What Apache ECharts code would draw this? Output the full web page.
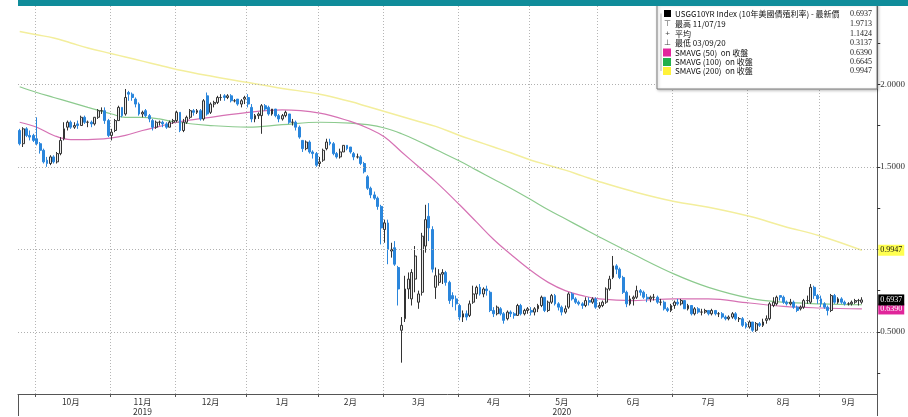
<!DOCTYPE html>
<html><head><meta charset="utf-8">
<script src="https://cdn.jsdelivr.net/npm/echarts@6/dist/echarts.min.js"></script>
<style>html,body{margin:0;padding:0;background:#fff}#c{width:908px;height:417px}</style>
</head><body><div id="c"></div>
<script>
// ---------- categories (trading days) ----------
const monthKeys = ['2019-09','2019-10','2019-11','2019-12','2020-01','2020-02','2020-03','2020-04','2020-05','2020-06','2020-07','2020-08','2020-09'];
const monthLabels = ['', '10月', '11月\n2019', '12月', '1月', '2月', '3月', '4月', '5月\n2020', '6月', '7月', '8月', '9月'];
const tradingDays = [
  [24,25,26,27,30],
  [1,2,3,4,7,8,9,10,11,15,16,17,18,21,22,23,24,25,28,29,30,31],
  [1,4,5,6,7,8,12,13,14,15,18,19,20,21,22,25,26,27,29],
  [2,3,4,5,6,9,10,11,12,13,16,17,18,19,20,23,24,26,27,30,31],
  [2,3,6,7,8,9,10,13,14,15,16,17,21,22,23,24,27,28,29,30,31],
  [3,4,5,6,7,10,11,12,13,14,18,19,20,21,24,25,26,27,28],
  [2,3,4,5,6,9,10,11,12,13,16,17,18,19,20,23,24,25,26,27,30,31],
  [1,2,3,6,7,8,9,13,14,15,16,17,20,21,22,23,24,27,28,29,30],
  [1,4,5,6,7,8,11,12,13,14,15,18,19,20,21,22,26,27,28,29],
  [1,2,3,4,5,8,9,10,11,12,15,16,17,18,19,22,23,24,25,26,29,30],
  [1,2,6,7,8,9,10,13,14,15,16,17,20,21,22,23,24,27,28,29,30,31],
  [3,4,5,6,7,10,11,12,13,14,17,18,19,20,21,24,25,26,27,28,31],
  [1,2,3,4,8,9,10,11,14,15,16,17,18]
];
const futureDays = ['2020-09-21','2020-09-22','2020-09-23','2020-09-24'];

// ---------- USGG10YR candles [open, close, low, high] ----------
const sep19 = [[1.72,1.64,1.63,1.73],[1.64,1.73,1.62,1.74],[1.73,1.69,1.68,1.74],[1.69,1.68,1.66,1.72],[1.69,1.66,1.65,1.70]];
const oct19 = [[1.67,1.64,1.63,1.80],[1.64,1.60,1.58,1.65],[1.60,1.53,1.52,1.61],[1.54,1.52,1.50,1.56],[1.52,1.56,1.51,1.57],[1.56,1.53,1.52,1.57],[1.53,1.58,1.52,1.59],[1.58,1.66,1.57,1.68],[1.67,1.73,1.66,1.77],[1.74,1.77,1.72,1.78],[1.77,1.74,1.73,1.78],[1.74,1.75,1.73,1.77],[1.76,1.75,1.73,1.78],[1.75,1.80,1.75,1.81],[1.80,1.77,1.76,1.81],[1.77,1.77,1.74,1.78],[1.77,1.76,1.74,1.78],[1.76,1.80,1.75,1.80],[1.80,1.84,1.79,1.85],[1.84,1.84,1.82,1.86],[1.84,1.78,1.76,1.86],[1.78,1.69,1.68,1.79]];
const nov19 = [[1.69,1.71,1.66,1.73],[1.72,1.78,1.71,1.79],[1.78,1.86,1.78,1.87],[1.86,1.81,1.80,1.86],[1.82,1.92,1.81,1.9713],[1.95,1.94,1.90,1.96],[1.94,1.92,1.90,1.95],[1.91,1.88,1.86,1.92],[1.88,1.82,1.81,1.89],[1.82,1.83,1.80,1.84],[1.84,1.81,1.80,1.85],[1.81,1.79,1.77,1.82],[1.78,1.74,1.72,1.79],[1.74,1.77,1.73,1.78],[1.77,1.77,1.75,1.78],[1.77,1.76,1.74,1.78],[1.76,1.74,1.73,1.77],[1.74,1.77,1.74,1.78],[1.77,1.78,1.76,1.79]];
const dec19 = [[1.78,1.83,1.77,1.84],[1.83,1.72,1.71,1.83],[1.72,1.77,1.71,1.79],[1.77,1.80,1.76,1.81],[1.80,1.84,1.79,1.85],[1.84,1.83,1.81,1.85],[1.83,1.84,1.82,1.85],[1.84,1.79,1.78,1.85],[1.79,1.90,1.78,1.91],[1.93,1.82,1.81,1.95],[1.83,1.88,1.82,1.89],[1.88,1.89,1.86,1.90],[1.89,1.92,1.88,1.93],[1.92,1.92,1.90,1.94],[1.93,1.92,1.90,1.94],[1.92,1.93,1.91,1.94],[1.93,1.90,1.89,1.94],[1.90,1.90,1.89,1.91],[1.91,1.88,1.87,1.91],[1.88,1.90,1.86,1.91],[1.91,1.92,1.88,1.93]];
const jan20 = [[1.92,1.88,1.86,1.94],[1.86,1.79,1.77,1.88],[1.79,1.81,1.77,1.82],[1.81,1.82,1.79,1.83],[1.81,1.87,1.70,1.88],[1.87,1.85,1.84,1.88],[1.86,1.82,1.81,1.87],[1.82,1.85,1.81,1.85],[1.85,1.81,1.80,1.85],[1.81,1.79,1.77,1.82],[1.79,1.81,1.78,1.82],[1.81,1.83,1.80,1.84],[1.82,1.77,1.76,1.82],[1.77,1.77,1.75,1.79],[1.77,1.74,1.72,1.78],[1.74,1.68,1.67,1.75],[1.66,1.61,1.59,1.66],[1.61,1.65,1.60,1.66],[1.65,1.59,1.58,1.66],[1.59,1.58,1.55,1.60],[1.58,1.51,1.50,1.59]];
const feb20 = [[1.52,1.53,1.50,1.56],[1.54,1.60,1.53,1.61],[1.61,1.65,1.60,1.67],[1.65,1.64,1.63,1.67],[1.64,1.58,1.57,1.65],[1.58,1.56,1.55,1.59],[1.56,1.59,1.55,1.61],[1.59,1.63,1.59,1.63],[1.63,1.61,1.60,1.63],[1.62,1.59,1.58,1.62],[1.58,1.56,1.54,1.59],[1.56,1.56,1.55,1.58],[1.56,1.52,1.51,1.57],[1.52,1.47,1.46,1.53],[1.44,1.37,1.36,1.45],[1.37,1.33,1.31,1.38],[1.33,1.31,1.30,1.35],[1.31,1.26,1.24,1.32],[1.26,1.13,1.03,1.27]];
const mar20 = [[1.12,1.16,1.04,1.18],[1.16,1.00,0.91,1.18],[0.99,1.00,0.95,1.04],[1.01,0.91,0.90,1.05],[0.89,0.76,0.66,0.90],[0.51,0.54,0.3137,0.59],[0.58,0.76,0.56,0.84],[0.76,0.82,0.70,0.86],[0.70,0.86,0.66,0.88],[0.82,0.96,0.74,1.02],[0.68,0.73,0.64,0.75],[0.74,1.08,0.72,1.10],[1.02,1.18,0.98,1.27],[1.20,1.13,1.05,1.28],[1.12,0.88,0.86,1.14],[0.77,0.84,0.70,0.89],[0.80,0.85,0.78,0.88],[0.85,0.86,0.79,0.88],[0.86,0.80,0.78,0.87],[0.80,0.69,0.67,0.81],[0.72,0.70,0.65,0.74],[0.70,0.67,0.63,0.72]];
const apr20 = [[0.66,0.59,0.57,0.67],[0.59,0.61,0.56,0.63],[0.61,0.59,0.57,0.63],[0.60,0.67,0.59,0.69],[0.68,0.73,0.67,0.78],[0.73,0.77,0.70,0.78],[0.77,0.73,0.72,0.79],[0.73,0.76,0.71,0.77],[0.76,0.75,0.72,0.78],[0.74,0.63,0.62,0.75],[0.63,0.61,0.59,0.65],[0.61,0.65,0.60,0.66],[0.64,0.61,0.60,0.65],[0.61,0.57,0.55,0.62],[0.58,0.62,0.57,0.63],[0.62,0.61,0.59,0.63],[0.61,0.60,0.58,0.62],[0.60,0.66,0.60,0.67],[0.66,0.61,0.60,0.67],[0.61,0.63,0.60,0.64],[0.63,0.64,0.61,0.65]];
const may20 = [[0.63,0.62,0.60,0.65],[0.62,0.64,0.60,0.65],[0.64,0.66,0.62,0.67],[0.66,0.71,0.65,0.72],[0.71,0.63,0.62,0.71],[0.63,0.68,0.62,0.69],[0.68,0.72,0.67,0.73],[0.72,0.67,0.66,0.73],[0.67,0.65,0.63,0.68],[0.65,0.62,0.60,0.66],[0.62,0.64,0.61,0.66],[0.65,0.73,0.64,0.74],[0.73,0.70,0.69,0.74],[0.70,0.68,0.67,0.71],[0.68,0.67,0.66,0.69],[0.67,0.66,0.64,0.68],[0.66,0.69,0.65,0.71],[0.69,0.68,0.66,0.71],[0.68,0.70,0.67,0.71],[0.70,0.65,0.64,0.71]];
const jun20 = [[0.65,0.66,0.64,0.68],[0.66,0.68,0.65,0.69],[0.68,0.76,0.67,0.77],[0.76,0.82,0.75,0.84],[0.83,0.90,0.82,0.96],[0.90,0.88,0.85,0.91],[0.88,0.83,0.82,0.89],[0.83,0.74,0.73,0.84],[0.74,0.67,0.65,0.75],[0.67,0.70,0.66,0.72],[0.70,0.71,0.66,0.72],[0.71,0.75,0.70,0.78],[0.75,0.74,0.72,0.76],[0.74,0.71,0.70,0.75],[0.71,0.70,0.68,0.73],[0.70,0.71,0.68,0.72],[0.71,0.71,0.69,0.73],[0.71,0.68,0.67,0.72],[0.68,0.68,0.66,0.70],[0.68,0.64,0.63,0.69],[0.64,0.63,0.62,0.65],[0.63,0.66,0.62,0.67]];
const jul20 = [[0.66,0.68,0.64,0.69],[0.68,0.67,0.66,0.70],[0.67,0.69,0.66,0.70],[0.69,0.64,0.64,0.69],[0.64,0.66,0.63,0.67],[0.66,0.61,0.60,0.66],[0.61,0.64,0.60,0.65],[0.64,0.62,0.61,0.65],[0.62,0.62,0.60,0.64],[0.62,0.63,0.61,0.64],[0.63,0.61,0.60,0.63],[0.61,0.63,0.60,0.64],[0.63,0.61,0.60,0.63],[0.61,0.61,0.59,0.62],[0.61,0.59,0.58,0.62],[0.59,0.58,0.57,0.60],[0.58,0.59,0.57,0.60],[0.59,0.61,0.58,0.62],[0.61,0.58,0.57,0.62],[0.58,0.58,0.56,0.59],[0.58,0.54,0.53,0.59],[0.55,0.53,0.52,0.56]];
const aug20 = [[0.53,0.56,0.52,0.57],[0.56,0.51,0.50,0.56],[0.51,0.55,0.50,0.56],[0.55,0.54,0.53,0.56],[0.54,0.56,0.53,0.58],[0.57,0.58,0.55,0.60],[0.58,0.67,0.57,0.68],[0.66,0.68,0.65,0.71],[0.67,0.71,0.66,0.72],[0.72,0.71,0.69,0.72],[0.71,0.68,0.67,0.72],[0.68,0.67,0.66,0.69],[0.67,0.68,0.66,0.70],[0.68,0.65,0.64,0.69],[0.65,0.63,0.62,0.66],[0.64,0.65,0.63,0.66],[0.65,0.69,0.64,0.70],[0.69,0.69,0.67,0.72],[0.68,0.77,0.67,0.79],[0.77,0.72,0.70,0.78],[0.72,0.70,0.67,0.73]];
const sep20 = [[0.70,0.67,0.65,0.72],[0.67,0.65,0.64,0.68],[0.65,0.63,0.60,0.66],[0.63,0.72,0.62,0.73],[0.72,0.68,0.67,0.73],[0.68,0.70,0.67,0.71],[0.70,0.68,0.67,0.71],[0.68,0.67,0.66,0.69],[0.67,0.67,0.66,0.68],[0.67,0.68,0.66,0.69],[0.68,0.69,0.67,0.70],[0.69,0.69,0.66,0.70],[0.68,0.6937,0.67,0.71]];
const monthCandles = [sep19,oct19,nov19,dec19,jan20,feb20,mar20,apr20,may20,jun20,jul20,aug20,sep20];

// ---------- moving averages, read at sampled trading-day positions ----------
const maDayIndex = [0,5,10,15,20,27,31,36,41,46,56,67,77,88,97,102,107,112,117,122,129,134,139,144,150,155,160,165,170,180,192,202,214,224,235,247];
const sma50  = [1.77,1.74,1.69,1.665,1.665,1.675,1.69,1.72,1.745,1.77,1.80,1.83,1.845,1.825,1.775,1.735,1.68,1.59,1.50,1.41,1.27,1.165,1.06,0.97,0.87,0.80,0.75,0.72,0.70,0.69,0.70,0.70,0.675,0.655,0.645,0.639];
const sma100 = [1.985,1.95,1.92,1.89,1.86,1.82,1.80,1.80,1.79,1.77,1.75,1.74,1.755,1.77,1.765,1.755,1.735,1.70,1.655,1.605,1.535,1.48,1.425,1.37,1.30,1.24,1.185,1.13,1.075,0.97,0.85,0.77,0.705,0.68,0.67,0.6645];
const sma200 = [2.32,2.30,2.28,2.25,2.22,2.185,2.165,2.14,2.115,2.09,2.05,2.01,1.975,1.94,1.895,1.865,1.835,1.805,1.775,1.745,1.69,1.655,1.62,1.585,1.54,1.51,1.48,1.445,1.41,1.35,1.29,1.255,1.20,1.14,1.08,0.9947];

// ---------- axis values & legend text ----------
const yTickValues = [0.25,0.5,0.75,1.0,1.25,1.5,1.75,2.0,2.25];
const yLabelValues = [0.5,1.5,2.0];
const gridValues = [0.5,1.0,1.5,2.0];
const lastPrice = 0.6937, lastSma50 = 0.6390, lastSma200 = 0.9947;
const legendRows = ['USGG10YR Index (10年美國債殖利率) - 最新價','最高 11/07/19','平均','最低 03/09/20','SMAVG (50)  on 收盤','SMAVG (100)  on 收盤','SMAVG (200)  on 收盤'];
const legendVals = ['0.6937','1.9713','1.1424','0.3137','0.6390','0.6645','0.9947'];

// ---------- build ----------
const cats = [], candles = [], monthStart = [];
monthKeys.forEach((m,k)=>{
  monthStart.push(cats.length);
  tradingDays[k].forEach((d,j)=>{ cats.push(m+'-'+String(d).padStart(2,'0')); candles.push(monthCandles[k][j]); });
});
futureDays.forEach(d=>{ cats.push(d); candles.push('-'); });
const labelAt = {};
monthKeys.forEach((m,k)=>{
  if(!monthLabels[k]) return;
  const s = monthStart[k], e = k+1<monthKeys.length ? monthStart[k+1] : cats.length;
  labelAt[Math.floor((s+e-1)/2)] = monthLabels[k];
});
const startSet = new Set(monthStart.slice(1));
const yearIdx = monthStart[monthKeys.indexOf('2020-01')];
function maSeries(vals){ const a = cats.map(()=>null); maDayIndex.forEach((i,j)=>{a[i]=vals[j];}); return a; }

const C50='#d672b4', C100='#8cca8e', C200='#f3ee9c';
const cjk = '"Noto Sans CJK TC","Noto Sans",sans-serif';
const serif = '"Liberation Serif",serif';
const rowY = [13.5,24,33.5,43,52.5,62,71];
const Z = 110;
const gfx = [];
gfx.push({type:'rect', shape:{x:18,y:0,width:890,height:6}, style:{fill:'#0f8c9a'}, z:Z+5});
gfx.push({type:'rect', shape:{x:657,y:4,width:220,height:85}, style:{fill:'#fff', stroke:'#7c7c7c', lineWidth:1, shadowBlur:3, shadowColor:'rgba(0,0,0,0.25)', shadowOffsetX:1, shadowOffsetY:1}, z:Z});
gfx.push({type:'line', shape:{x1:661,y1:rowY[0],x2:661,y2:rowY[6]}, style:{stroke:'#b0b0b0', lineWidth:1}, z:Z+1});
gfx.push({type:'rect', shape:{x:664,y:rowY[0]-3.5,width:7,height:7}, style:{fill:'#000'}, z:Z+2});
[['⊤',1],['+',2],['⊥',3]].forEach(([s,r])=>gfx.push({type:'text', x:667.5, y:rowY[r], style:{text:s, fontSize:8, fill:'#444', align:'center', verticalAlign:'middle'}, z:Z+2}));
[['#e2259c',4],['#22b04b',5],['#fff23a',6]].forEach(([c,r])=>gfx.push({type:'rect', shape:{x:663,y:rowY[r]-4,width:8,height:8}, style:{fill:c}, z:Z+2}));
legendRows.forEach((t,i)=>{
  gfx.push({type:'text', x:675, y:rowY[i], style:{text:t, fontSize:8, fontFamily:cjk, fill:'#111', verticalAlign:'middle'}, z:Z+2});
  gfx.push({type:'text', x:872, y:rowY[i], style:{text:legendVals[i], fontSize:8, fontFamily:serif, fill:'#222', align:'right', verticalAlign:'middle'}, z:Z+2});
});

function tag(value, bg, fg){
  return {silent:true, precision:4, symbol:['none','none'], lineStyle:{color:'rgba(0,0,0,0)', width:1},
    label:{show:true, position:'end', distance:1, formatter:()=>value.toFixed(4), backgroundColor:bg, color:fg, fontSize:8, padding:[2,2,1,2], fontFamily:serif},
    data:[{yAxis:value}]};
}

const chart = echarts.init(document.getElementById('c'), null, {renderer:'canvas'});
chart.setOption({
  animation:false,
  backgroundColor:'#fff',
  grid:{left:18, right:29, top:6, bottom:22},
  xAxis:[{
    type:'category', data:cats, boundaryGap:true,
    axisLine:{lineStyle:{color:'#555', width:1}},
    axisTick:{show:true, interval:(i)=>startSet.has(i), length:3, lineStyle:{color:'#555'}},
    axisLabel:{interval:(i)=>labelAt[i]!==undefined, formatter:(v,i)=>labelAt[i]||'', fontSize:8.5, lineHeight:10, margin:3, color:'#333', fontFamily:cjk},
    splitLine:{show:true, interval:(i)=>startSet.has(i), lineStyle:{color:'#b5b5b5', type:[1,2], width:1}}
  },{
    type:'category', data:cats, boundaryGap:true, position:'bottom',
    axisLine:{show:false},
    axisTick:{show:true, interval:(i)=>i===yearIdx, length:22, lineStyle:{color:'#555'}},
    axisLabel:{show:false}, splitLine:{show:false}
  }],
  yAxis:{
    type:'value', position:'right', min:0.124, max:2.474,
    axisLine:{show:true, lineStyle:{color:'#555'}},
    axisTick:{show:true, customValues:yTickValues, length:3, lineStyle:{color:'#333'}},
    axisLabel:{customValues:yLabelValues, formatter:(v)=>Number(v).toFixed(4), fontSize:9, margin:3, color:'#333', fontFamily:serif},
    splitLine:{show:false}
  },
  series:[
    {type:'line', name:'SMAVG (200)', data:maSeries(sma200), connectNulls:true, symbol:'none', smooth:0.4, lineStyle:{color:C200, width:1.5}, z:2,
      markLine:tag(lastSma200, '#ffff50', '#111')},
    {type:'line', name:'SMAVG (100)', data:maSeries(sma100), connectNulls:true, symbol:'none', smooth:0.4, lineStyle:{color:C100, width:1.2}, z:2,
      markLine:{silent:true, symbol:['none','none'], label:{show:false}, lineStyle:{color:'#b0b0b0', type:[1,2], width:1}, data:gridValues.map(v=>({yAxis:v}))}},
    {type:'line', name:'SMAVG (50)', data:maSeries(sma50), connectNulls:true, symbol:'none', smooth:0.4, lineStyle:{color:C50, width:1.2}, z:3,
      markLine:tag(lastSma50, '#e0259a', '#fff')},
    {type:'candlestick', name:'USGG10YR', data:candles, barWidth:2.4, z:4,
      itemStyle:{color:'#e8e8e8', color0:'#2a86dc', borderColor:'#333', borderColor0:'#2a86dc', borderWidth:1},
      markLine:tag(lastPrice, '#000', '#fff')}
  ],
  graphic:gfx
});
</script>
</body></html>
